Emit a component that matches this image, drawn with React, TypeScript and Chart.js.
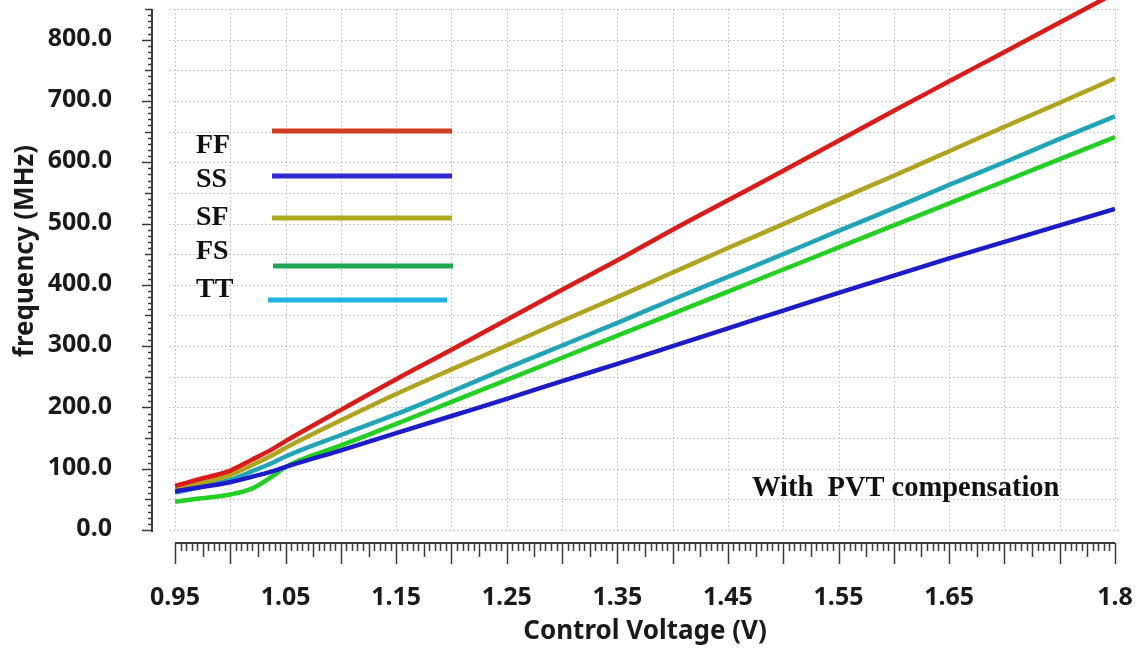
import React, { useEffect, useRef } from 'react';
import { Chart, registerables } from 'chart.js';

Chart.register(...registerables);

// ---- data ----
const voltages = [0.95, 0.97, 1.0, 1.02, 1.04, 1.05, 1.1, 1.15, 1.2, 1.25, 1.3, 1.35, 1.4, 1.45, 1.5, 1.55, 1.6, 1.65, 1.7, 1.75, 1.8];
const ffFreq = [72, 82, 97, 115, 134, 145, 196, 246, 294, 343, 392, 440, 490, 538, 586, 635, 684, 732, 780, 828, 876];
const ssFreq = [63, 69, 78, 87, 97, 103, 130, 158, 186, 214, 243, 271, 300, 329, 358, 387, 415, 443, 470, 497, 524];
const sfFreq = [66, 75, 90, 106, 124, 134, 179, 222, 262, 301, 341, 380, 420, 460, 499, 539, 578, 618, 658, 697, 737];
const fsFreq = [46, 51, 58, 68, 90, 103, 138, 173, 209, 245, 281, 317, 353, 389, 425, 461, 497, 533, 569, 605, 641];
const ttFreq = [61, 69, 82, 96, 111, 120, 155, 189, 226, 264, 301, 338, 376, 413, 450, 488, 525, 563, 600, 638, 675];

const seriesLabels = ['FF', 'SS', 'SF', 'FS', 'TT'];
const seriesValues = [ffFreq, ssFreq, sfFreq, fsFreq, ttFreq];
const lineColors = ['#dc1a18', '#1c1cc8', '#aea41e', '#22d022', '#20a4b6'];
const legendColors = ['#d03c22', '#3428d0', '#b0aa22', '#20a652', '#22b2e4'];

const xTickLabels = [0.95, 1.05, 1.15, 1.25, 1.35, 1.45, 1.55, 1.65, 1.8];
const yTickLabels = [0, 100, 200, 300, 400, 500, 600, 700, 800];
const xMin = 0.95;
const xMax = 1.8;
const yMin = 0;
const yMax = 850;
const xGridStep = 0.05;
const yGridStep = 50;
const xTitle = 'Control Voltage (V)';
const yTitle = 'frequency (MHz)';
const noteText = 'With  PVT compensation';

const SANS = '"Noto Sans", "Open Sans", sans-serif';
const SERIF = '"Liberation Serif", "Times New Roman", serif';

const decorPlugin = {
  id: 'decor',
  beforeDatasetsDraw(chart: any) {
    const { ctx, chartArea } = chart;
    const xs = chart.scales.x;
    const ys = chart.scales.y;
    ctx.save();
    ctx.strokeStyle = 'rgba(140,140,140,0.6)';
    ctx.lineWidth = 1;
    ctx.setLineDash([1.5, 2.5]);
    const nx = Math.round((xMax - xMin) / xGridStep);
    for (let i = 0; i <= nx; i++) {
      const v = (xMin * 100 + xGridStep * 100 * i) / 100;
      const px = Math.round(xs.getPixelForValue(v)) + 0.5;
      ctx.beginPath();
      ctx.moveTo(px, chartArea.top);
      ctx.lineTo(px, chartArea.bottom);
      ctx.stroke();
    }
    const ny = Math.round((yMax - yMin) / yGridStep);
    for (let i = 0; i <= ny; i++) {
      const v = yMin + yGridStep * i;
      const py = Math.round(ys.getPixelForValue(v)) + 0.5;
      ctx.beginPath();
      ctx.moveTo(chartArea.left - 6, py);
      ctx.lineTo(chartArea.right + 4, py);
      ctx.stroke();
    }
    ctx.restore();
  },
  afterDatasetsDraw(chart: any) {
    const { ctx } = chart;
    ctx.save();
    const legendRows = [
      { ty: 153, ly: 131, x0: 272, x1: 452 },
      { ty: 187, ly: 176, x0: 272, x1: 452 },
      { ty: 225, ly: 218, x0: 272, x1: 452 },
      { ty: 259, ly: 266, x0: 273, x1: 453 },
      { ty: 297, ly: 300, x0: 268, x1: 447 },
    ];
    ctx.font = `bold 28px ${SERIF}`;
    ctx.textAlign = 'left';
    ctx.textBaseline = 'alphabetic';
    chart.data.datasets.forEach((ds: any, i: number) => {
      const r = legendRows[i];
      ctx.fillStyle = '#111';
      ctx.fillText(ds.label, 196, r.ty);
      ctx.strokeStyle = legendColors[i];
      ctx.lineWidth = 5;
      ctx.lineCap = 'butt';
      ctx.beginPath();
      ctx.moveTo(r.x0, r.ly);
      ctx.lineTo(r.x1, r.ly);
      ctx.stroke();
    });
    ctx.fillStyle = '#111';
    ctx.font = `bold 28.5px ${SERIF}`;
    ctx.fillText(noteText, 752, 496);
    ctx.restore();
  },
  afterDraw(chart: any) {
    const { ctx, chartArea } = chart;
    const xs = chart.scales.x;
    const ys = chart.scales.y;
    ctx.save();
    ctx.strokeStyle = '#3a3a3a';
    // x axis
    const axY = chartArea.bottom + 13;
    const ax0 = xs.getPixelForValue(xMin);
    const ax1 = xs.getPixelForValue(xMax);
    ctx.lineWidth = 2;
    ctx.beginPath();
    ctx.moveTo(ax0, axY);
    ctx.lineTo(ax1, axY);
    ctx.stroke();
    ctx.lineWidth = 1.5;
    const nx = Math.round((xMax - xMin) / 0.005);
    for (let i = 0; i <= nx; i++) {
      const v = (xMin * 1000 + 5 * i) / 1000;
      const px = Math.round(xs.getPixelForValue(v)) + 0.5;
      const len = i % 10 === 0 ? 21 : i % 5 === 0 ? 14 : 8;
      ctx.beginPath();
      ctx.moveTo(px, axY);
      ctx.lineTo(px, axY + len);
      ctx.stroke();
    }
    // y axis
    const axX = chartArea.left - 23;
    const ay0 = ys.getPixelForValue(yMin);
    const ay1 = ys.getPixelForValue(yMax);
    ctx.lineWidth = 2;
    ctx.beginPath();
    ctx.moveTo(axX, ay0 + 2);
    ctx.lineTo(axX, ay1);
    ctx.stroke();
    ctx.lineWidth = 1.5;
    const ny = Math.round((yMax - yMin) / 10);
    for (let i = 0; i <= ny; i++) {
      const v = yMin + 10 * i;
      const py = Math.round(ys.getPixelForValue(v)) + 0.5;
      const len = i % 10 === 0 ? 10 : i % 5 === 0 ? 7 : 4;
      ctx.beginPath();
      ctx.moveTo(axX, py);
      ctx.lineTo(axX - len, py);
      ctx.stroke();
    }
    // tick labels
    ctx.fillStyle = '#1a1a1a';
    ctx.font = `bold 25px ${SANS}`;
    ctx.textAlign = 'right';
    ctx.textBaseline = 'middle';
    yTickLabels.forEach((v) => {
      ctx.fillText(v.toFixed(1), axX - 40, ys.getPixelForValue(v) - 1);
    });
    ctx.textAlign = 'center';
    xTickLabels.forEach((v) => {
      ctx.fillText(String(v), xs.getPixelForValue(v), axY + 55);
    });
    // titles
    ctx.font = `bold 26px ${SANS}`;
    ctx.fillText(xTitle, (ax0 + ax1) / 2, axY + 89);
    ctx.save();
    ctx.translate(33, 251);
    ctx.rotate(-Math.PI / 2);
    ctx.textBaseline = 'alphabetic';
    ctx.fillText(yTitle, 0, 0);
    ctx.restore();
    ctx.restore();
  },
};

export default function App() {
  const canvasRef = useRef<HTMLCanvasElement | null>(null);

  useEffect(() => {
    if (!canvasRef.current) return;
    const chart = new Chart(canvasRef.current, {
      type: 'line',
      data: {
        datasets: seriesLabels.map((label, i) => ({
          label,
          data: voltages.map((v, j) => ({ x: v, y: seriesValues[i][j] })),
          borderColor: lineColors[i],
          backgroundColor: lineColors[i],
          borderWidth: 4.5,
          pointRadius: 0,
          cubicInterpolationMode: 'monotone',
          borderJoinStyle: 'round',
          fill: false,
          clip: i === 0 ? false : undefined,
        })) as any,
      },
      options: {
        responsive: false,
        animation: false,
        events: [],
        layout: { padding: { left: 175, right: 29, top: 9, bottom: 119 } },
        plugins: {
          legend: { display: false },
          tooltip: { enabled: false },
          title: { display: false },
        },
        scales: {
          x: {
            type: 'linear',
            min: xMin,
            max: xMax,
            ticks: { display: false },
            grid: { display: false, drawTicks: false },
            border: { display: false },
          },
          y: {
            type: 'linear',
            min: yMin,
            max: yMax,
            ticks: { display: false },
            grid: { display: false, drawTicks: false },
            border: { display: false },
          },
        },
      } as any,
      plugins: [decorPlugin],
    });
    return () => chart.destroy();
  }, []);

  return (
    <div style={{ position: 'fixed', left: 0, top: 0, width: 1144, height: 649, background: '#fff' }}>
      <canvas ref={canvasRef} width={1144} height={649} style={{ display: 'block' }} />
    </div>
  );
}
